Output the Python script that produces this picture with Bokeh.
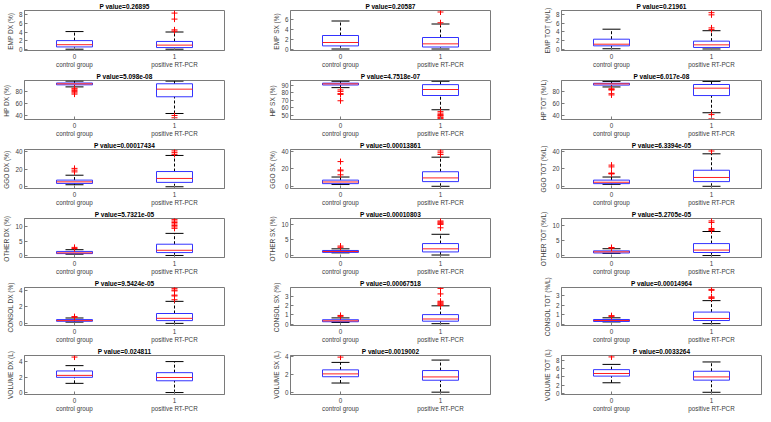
from bokeh.plotting import figure
from bokeh.models import FixedTicker, Range1d, ColumnDataSource
from bokeh.layouts import column, row
from bokeh.embed import file_html
from bokeh.resources import INLINE

# ---------------- data ----------------
group_codes = ["0", "1"]
group_names = ["control group", "positive RT-PCR"]

titles = ["P value=0.26895", "P value=0.20587", "P value=0.21961",
          "P value=5.098e-08", "P value=4.7518e-07", "P value=6.017e-08",
          "P value=0.00017434", "P value=0.00013861", "P value=6.3394e-05",
          "P value=5.7321e-05", "P value=0.00010803", "P value=5.2705e-05",
          "P value=9.5424e-05", "P value=0.00067518", "P value=0.00014964",
          "P value=0.024811", "P value=0.0019002", "P value=0.0033264"]

ylabels = ["EMP DX  (%)", "EMP SX  (%)", "EMP TOT (%/L)",
           "HP DX  (%)", "HP SX  (%)", "HP TOT (%/L)",
           "GGO DX  (%)", "GGO SX  (%)", "GGO TOT (%/L)",
           "OTHER DX  (%)", "OTHER SX  (%)", "OTHER TOT  (%/L)",
           "CONSOL DX  (%)", "CONSOL SX  (%)", "CONSOL TOT (%/L)",
           "VOLUME DX (L)", "VOLUME SX (L)", "VOLUME TOT (L)"]

ytick_values = [[0, 2, 4, 6, 8], [0, 2, 4, 6], [0, 2, 4, 6, 8],
                [40, 60, 80], [50, 60, 70, 80, 90], [40, 60, 80],
                [0, 20, 40], [0, 20, 40], [0, 20, 40],
                [0, 5, 10], [0, 5, 10], [0, 5, 10],
                [0, 2, 4], [0, 1, 2, 3], [0, 1, 2, 3],
                [0, 2, 4], [0, 2, 4], [0, 2, 4, 6, 8]]

ylims = [(-0.3, 9.0), (-0.3, 7.7), (-0.3, 8.9),
         (34, 97), (44.5, 96.5), (34, 97.5),
         (-2.0, 42.6), (-2.5, 41.7), (-2.5, 41.7),
         (-0.6, 12.9), (-0.7, 11.9), (-0.6, 12.3),
         (-0.2, 4.3), (-0.15, 4.0), (-0.15, 3.9),
         (-0.2, 4.8), (-0.2, 4.15), (-0.35, 9.3)]

# [lower whisker, q1, median, q3, upper whisker]
ctrl_stats = [[0.0, 0.53, 1.05, 2.0, 4.1], [0.0, 0.62, 1.3, 2.7, 5.6], [0.1, 0.77, 1.15, 2.3, 4.6],
              [86.7, 90, 91.6, 93, 96], [87, 90.5, 92, 93, 95.5], [87, 90, 92, 93, 96],
              [2.3, 3.8, 5.6, 7.6, 13.2], [2.0, 3.0, 4.9, 7.0, 10.5], [2.2, 3.0, 4.6, 7.0, 10.5],
              [0.55, 0.75, 1.0, 1.5, 2.1], [0.8, 0.95, 1.23, 1.57, 2.1], [0.75, 0.9, 1.27, 1.6, 2.3],
              [0.2, 0.3, 0.38, 0.5, 0.69], [0.18, 0.26, 0.36, 0.48, 0.68], [0.23, 0.28, 0.38, 0.49, 0.67],
              [1.23, 2.0, 2.25, 2.82, 3.5], [1.08, 1.78, 2.1, 2.55, 3.38], [2.55, 4.2, 4.85, 5.8, 7.1]]

pos_stats = [[0.0, 0.38, 0.95, 1.8, 4.0], [0.0, 0.4, 1.03, 2.3, 5.0], [0.05, 0.4, 1.0, 1.85, 4.25],
             [43.7, 70.7, 83, 91.7, 96], [57.5, 76.5, 84.5, 91, 95.5], [45, 73, 85, 91, 96],
             [0.0, 5.0, 9.5, 17.4, 35.8], [0.0, 5.3, 9.5, 16.5, 33], [0.0, 5.3, 10, 18.2, 36.8],
             [0.1, 1.1, 1.9, 4.0, 7.75], [0.1, 1.1, 2.1, 3.8, 6.8], [0.05, 1.05, 1.85, 4.0, 8.0],
             [0.05, 0.38, 0.65, 1.22, 2.66], [0.05, 0.32, 0.56, 1.04, 2.0], [0.05, 0.38, 0.6, 1.28, 2.5],
             [0.05, 1.56, 1.98, 2.6, 4.02], [0.06, 1.39, 1.76, 2.47, 3.64], [0.2, 3.2, 4.0, 5.4, 7.7]]

ctrl_outliers = [[], [], [],
                 [84.5, 83, 81, 79, 77, 75], [84, 82, 79, 78, 69.5], [84, 83, 82, 76, 74],
                 [17, 19, 21], [13, 17.5, 18.5, 28], [14, 14.5, 15, 22, 24],
                 [2.5, 2.9], [2.6, 3.0], [2.5, 2.7],
                 [0.78, 0.85], [0.85, 0.95], [0.82, 0.9],
                 [4.6], [3.97], [8.95]]

pos_outliers = [[4.2, 4.5, 7.0, 8.4], [5.25, 7.4], [4.5, 4.9, 7.9, 8.4],
                [40.5, 36.8], [55, 53, 51, 50, 49, 47, 46], [42, 35],
                [37, 39, 41], [36, 38, 40], [40],
                [9.5, 10, 10.5, 11, 11.5, 12, 12.5], [8.9, 10.0, 10.2, 10.5, 10.8, 11.1], [8.3, 8.6, 9.0, 11.0, 11.5],
                [2.85, 3.3, 3.4, 3.9, 4.0, 4.2], [2.05, 2.1, 2.2, 2.3, 2.4, 2.5, 3.3, 3.9], [2.75, 2.8, 2.9, 3.6, 3.7],
                [], [], []]

# ---------------- style / layout ----------------
FONT = "Liberation Sans"
col_widths = [266, 269, 228]
col_left = [24, 24, 26]
col_right = [42, 45, 2]
row_heights = [70, 69, 69, 69, 68, 69]
BOX_HW = 0.18
CAP_HW = 0.09
FRAME_COL = "#7a7a7a"
TEXT_COL = "#404040"


def make_panel(k, r, c):
    p = figure(width=col_widths[c], height=row_heights[r],
               x_range=Range1d(0.5, 2.5), y_range=Range1d(*ylims[k]),
               output_backend="svg", toolbar_location=None, tools="",
               min_border_left=col_left[c], min_border_right=col_right[c],
               min_border_top=10, min_border_bottom=19)
    p.title.text = titles[k]
    p.title.align = "center"
    p.title.text_font = FONT
    p.title.text_font_size = "6.5px"
    p.title.text_font_style = "bold"
    p.title.text_color = "black"
    p.title.standoff = 1
    p.outline_line_color = FRAME_COL
    p.outline_line_width = 1
    p.grid.visible = False

    ax = p.xaxis[0]
    ax.ticker = FixedTicker(ticks=[1, 2])
    ax.major_label_overrides = {1: group_codes[0] + "\n" + group_names[0],
                                2: group_codes[1] + "\n" + group_names[1]}
    ay = p.yaxis[0]
    ay.ticker = FixedTicker(ticks=ytick_values[k])
    ay.axis_label = ylabels[k]
    ay.axis_label_text_font = FONT
    ay.axis_label_text_font_size = "6.5px"
    ay.axis_label_text_font_style = "normal"
    ay.axis_label_text_color = TEXT_COL
    ay.axis_label_standoff = 2
    for a in (ax, ay):
        a.major_tick_in = 3
        a.major_tick_out = 0
        a.minor_tick_in = 0
        a.minor_tick_out = 0
        a.major_label_standoff = 2
        a.major_label_text_font = FONT
        a.major_label_text_font_size = "6.3px"
        a.major_label_text_color = TEXT_COL
        a.axis_line_color = FRAME_COL
        a.major_tick_line_color = FRAME_COL

    stats = [ctrl_stats[k], pos_stats[k]]
    xs = [1, 2]
    src = ColumnDataSource(dict(
        x=xs,
        lo=[s[0] for s in stats], q1=[s[1] for s in stats],
        med=[s[2] for s in stats], q3=[s[3] for s in stats],
        hi=[s[4] for s in stats],
        bl=[x - BOX_HW for x in xs], br=[x + BOX_HW for x in xs],
        cl=[x - CAP_HW for x in xs], cr=[x + CAP_HW for x in xs]))

    # whiskers (dashed)
    p.segment(x0="x", y0="q3", x1="x", y1="hi", source=src,
              line_color="black", line_width=1, line_dash="3 2")
    p.segment(x0="x", y0="lo", x1="x", y1="q1", source=src,
              line_color="black", line_width=1, line_dash="3 2")
    # caps
    p.segment(x0="cl", y0="hi", x1="cr", y1="hi", source=src,
              line_color="black", line_width=1)
    p.segment(x0="cl", y0="lo", x1="cr", y1="lo", source=src,
              line_color="black", line_width=1)
    # boxes
    p.quad(left="bl", right="br", bottom="q1", top="q3", source=src,
           fill_color=None, line_color="#3333ff", line_width=1)
    # medians
    p.segment(x0="bl", y0="med", x1="br", y1="med", source=src,
              line_color="#ff2020", line_width=1)
    # outliers
    ox = [1] * len(ctrl_outliers[k]) + [2] * len(pos_outliers[k])
    oy = list(ctrl_outliers[k]) + list(pos_outliers[k])
    if oy:
        p.scatter(x=ox, y=oy, marker="cross", size=6, line_color="#ff0000",
                  line_width=1)
    return p


rows = []
for r in range(6):
    figs = [make_panel(r * 3 + c, r, c) for c in range(3)]
    rows.append(row(*figs, spacing=0))
layout = column(*rows, spacing=0)

open("out.html", "w").write(file_html(layout, INLINE))
